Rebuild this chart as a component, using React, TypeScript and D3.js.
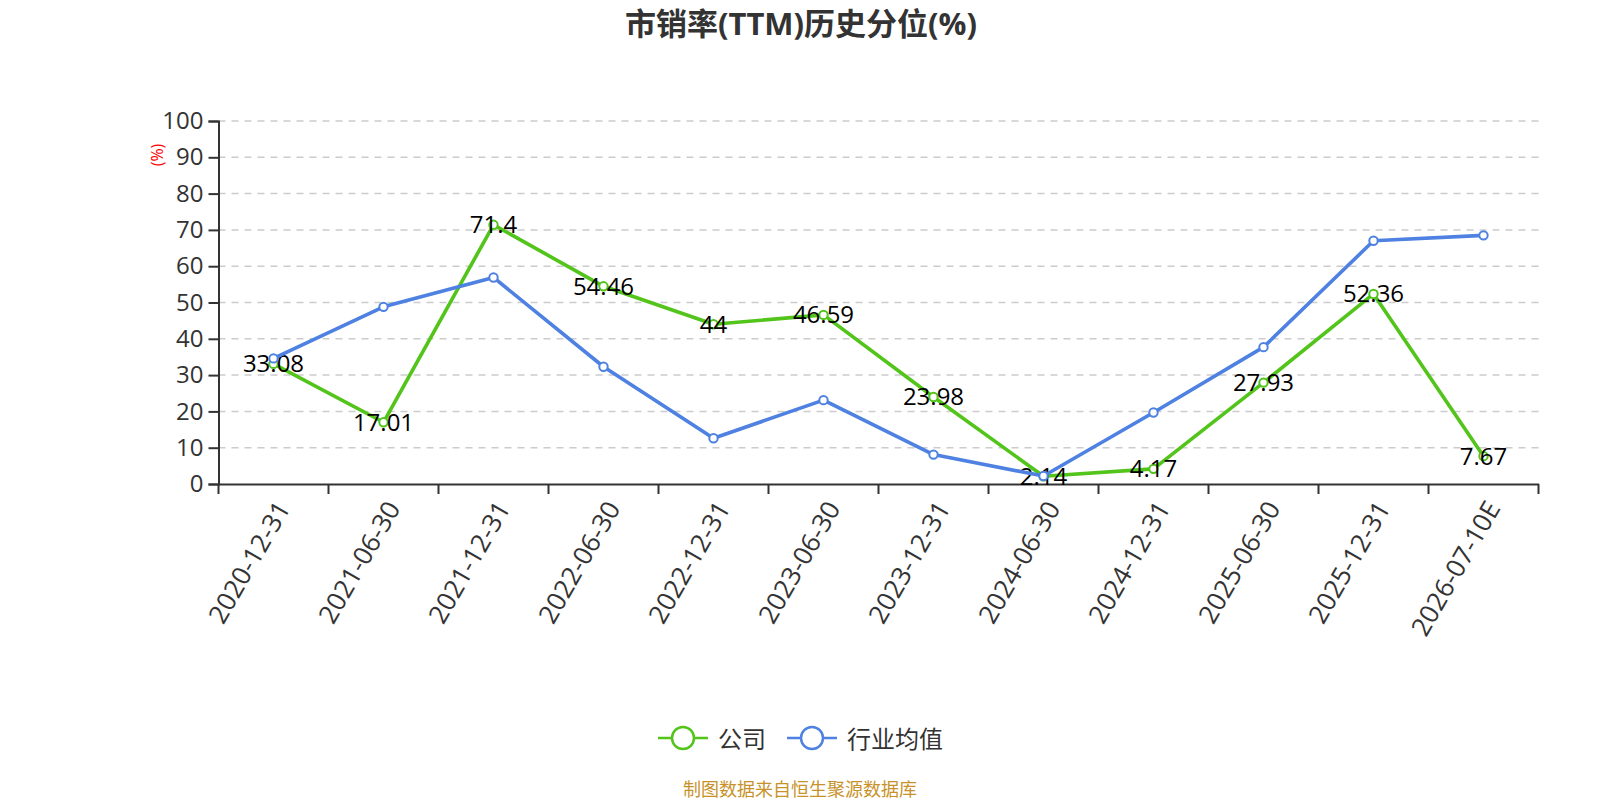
import * as d3 from "d3";
import { useEffect, useRef } from "react";

const categories = [
  "2020-12-31", "2021-06-30", "2021-12-31", "2022-06-30", "2022-12-31", "2023-06-30",
  "2023-12-31", "2024-06-30", "2024-12-31", "2025-06-30", "2025-12-31", "2026-07-10E",
];
const companyValues = [33.08, 17.01, 71.4, 54.46, 44, 46.59, 23.98, 2.14, 4.17, 27.93, 52.36, 7.67];
const industryValues = [34.6, 48.8, 56.9, 32.3, 12.6, 23.1, 8.1, 2.2, 19.7, 37.7, 67.0, 68.5];
const yTicks = [0, 10, 20, 30, 40, 50, 60, 70, 80, 90, 100];

const GREEN = "#52c41a";
const BLUE = "#4e81e1";
const FONT = "'Open Sans', 'Noto Sans CJK SC', sans-serif";

export default function App() {
  const svgRef = useRef<SVGSVGElement>(null);
  const width = 1600;
  const height = 800;

  useEffect(() => {
    if (!svgRef.current) return;
    const svg = d3.select(svgRef.current);
    svg.selectAll("*").remove();

    const margin = { left: 218.5, top: 121, right: 61.5, bottom: 316 };
    const innerW = width - margin.left - margin.right;
    const innerH = height - margin.top - margin.bottom;

    const x = d3.scaleBand<string>().domain(categories).range([0, innerW]);
    const y = d3.scaleLinear().domain([0, 100]).range([innerH, 0]);
    const cx = (c: string) => x(c)! + x.bandwidth() / 2;

    // Title
    svg.append("text")
      .attr("x", 801).attr("y", 23)
      .attr("text-anchor", "middle").attr("dominant-baseline", "central")
      .style("font-family", FONT).style("font-size", "31px").style("font-weight", "bold")
      .style("fill", "#333")
      .text("市销率(TTM)历史分位(%)");

    const g = svg.append("g").attr("transform", `translate(${margin.left},${margin.top})`);

    // Grid
    g.selectAll(".grid")
      .data(yTicks.filter((t) => t > 0))
      .enter()
      .append("line")
      .attr("x1", 0).attr("x2", innerW)
      .attr("y1", (d) => y(d)).attr("y2", (d) => y(d))
      .attr("stroke", "#ccc").attr("stroke-width", 1.5)
      .attr("stroke-dasharray", "7,6");

    // Y axis
    const yAxis = g.append("g").call(d3.axisLeft(y).tickValues(yTicks).tickSize(10).tickPadding(5));
    yAxis.select(".domain").attr("stroke", "#333").attr("stroke-width", 2);
    yAxis.selectAll(".tick line").attr("stroke", "#333").attr("stroke-width", 2);
    yAxis.selectAll(".tick text")
      .style("font-family", FONT).style("font-size", "24px").style("fill", "#333");

    g.append("text")
      .attr("transform", `translate(${157 - margin.left},${155 - margin.top}) rotate(-90)`)
      .attr("text-anchor", "middle").attr("dominant-baseline", "central")
      .style("font-family", FONT).style("font-size", "16px").style("fill", "red")
      .text("(%)");

    // X axis
    const xAxis = g.append("g")
      .attr("transform", `translate(0,${innerH})`)
      .call(d3.axisBottom(x).tickSize(0).tickFormat(() => ""));
    xAxis.select(".domain").attr("stroke", "#333").attr("stroke-width", 2);
    const bounds = categories.map((c) => x(c)!).concat([innerW]);
    xAxis.selectAll(".bound")
      .data(bounds)
      .enter()
      .append("line")
      .attr("x1", (d) => d).attr("x2", (d) => d)
      .attr("y1", 0).attr("y2", 10)
      .attr("stroke", "#333").attr("stroke-width", 2);
    xAxis.selectAll(".xlabel")
      .data(categories)
      .enter()
      .append("text")
      .attr("transform", (d) => `translate(${cx(d) + 9},${19}) rotate(-60)`)
      .attr("text-anchor", "end").attr("dominant-baseline", "central")
      .style("font-family", FONT).style("font-size", "26px").style("fill", "#333")
      .text((d) => d);

    const line = d3.line<number>()
      .x((_, i) => cx(categories[i]))
      .y((d) => y(d));

    const drawSeries = (values: number[], color: string) => {
      g.append("path")
        .datum(values)
        .attr("d", line)
        .attr("fill", "none")
        .attr("stroke", color)
        .attr("stroke-width", 3.6)
        .attr("stroke-linejoin", "round");
      g.selectAll(null)
        .data(values)
        .enter()
        .append("circle")
        .attr("cx", (_, i) => cx(categories[i]))
        .attr("cy", (d) => y(d))
        .attr("r", 4.2)
        .attr("fill", "#fff")
        .attr("stroke", color)
        .attr("stroke-width", 2);
    };

    drawSeries(companyValues, GREEN);

    g.selectAll(".label")
      .data(companyValues)
      .enter()
      .append("text")
      .attr("x", (_, i) => cx(categories[i]))
      .attr("y", (d) => y(d) - 1)
      .attr("text-anchor", "middle").attr("dominant-baseline", "central")
      .style("font-family", FONT).style("font-size", "24px").style("fill", "#000")
      .text((d) => String(d));

    drawSeries(industryValues, BLUE);

    // Legend
    const legend = [
      { name: "公司", color: GREEN, x: 658 },
      { name: "行业均值", color: BLUE, x: 787 },
    ];
    const lg = svg.append("g").attr("transform", "translate(0,738)");
    legend.forEach((l) => {
      lg.append("line")
        .attr("x1", l.x).attr("x2", l.x + 50)
        .attr("y1", 0).attr("y2", 0)
        .attr("stroke", l.color).attr("stroke-width", 2.5);
      lg.append("circle")
        .attr("cx", l.x + 25).attr("cy", 0).attr("r", 11)
        .attr("fill", "#fff").attr("stroke", l.color).attr("stroke-width", 2.5);
      lg.append("text")
        .attr("x", l.x + 60).attr("y", 0)
        .attr("dominant-baseline", "central")
        .style("font-family", FONT).style("font-size", "24px").style("fill", "#333")
        .text(l.name);
    });

    // Footer
    svg.append("text")
      .attr("x", 800).attr("y", 789)
      .attr("text-anchor", "middle").attr("dominant-baseline", "central")
      .style("font-family", FONT).style("font-size", "18px").style("fill", "#c8922a")
      .text("制图数据来自恒生聚源数据库");
  }, []);

  return (
    <svg
      ref={svgRef}
      width={width}
      height={height}
      style={{ position: "absolute", left: 0, top: 0, display: "block" }}
    />
  );
}
